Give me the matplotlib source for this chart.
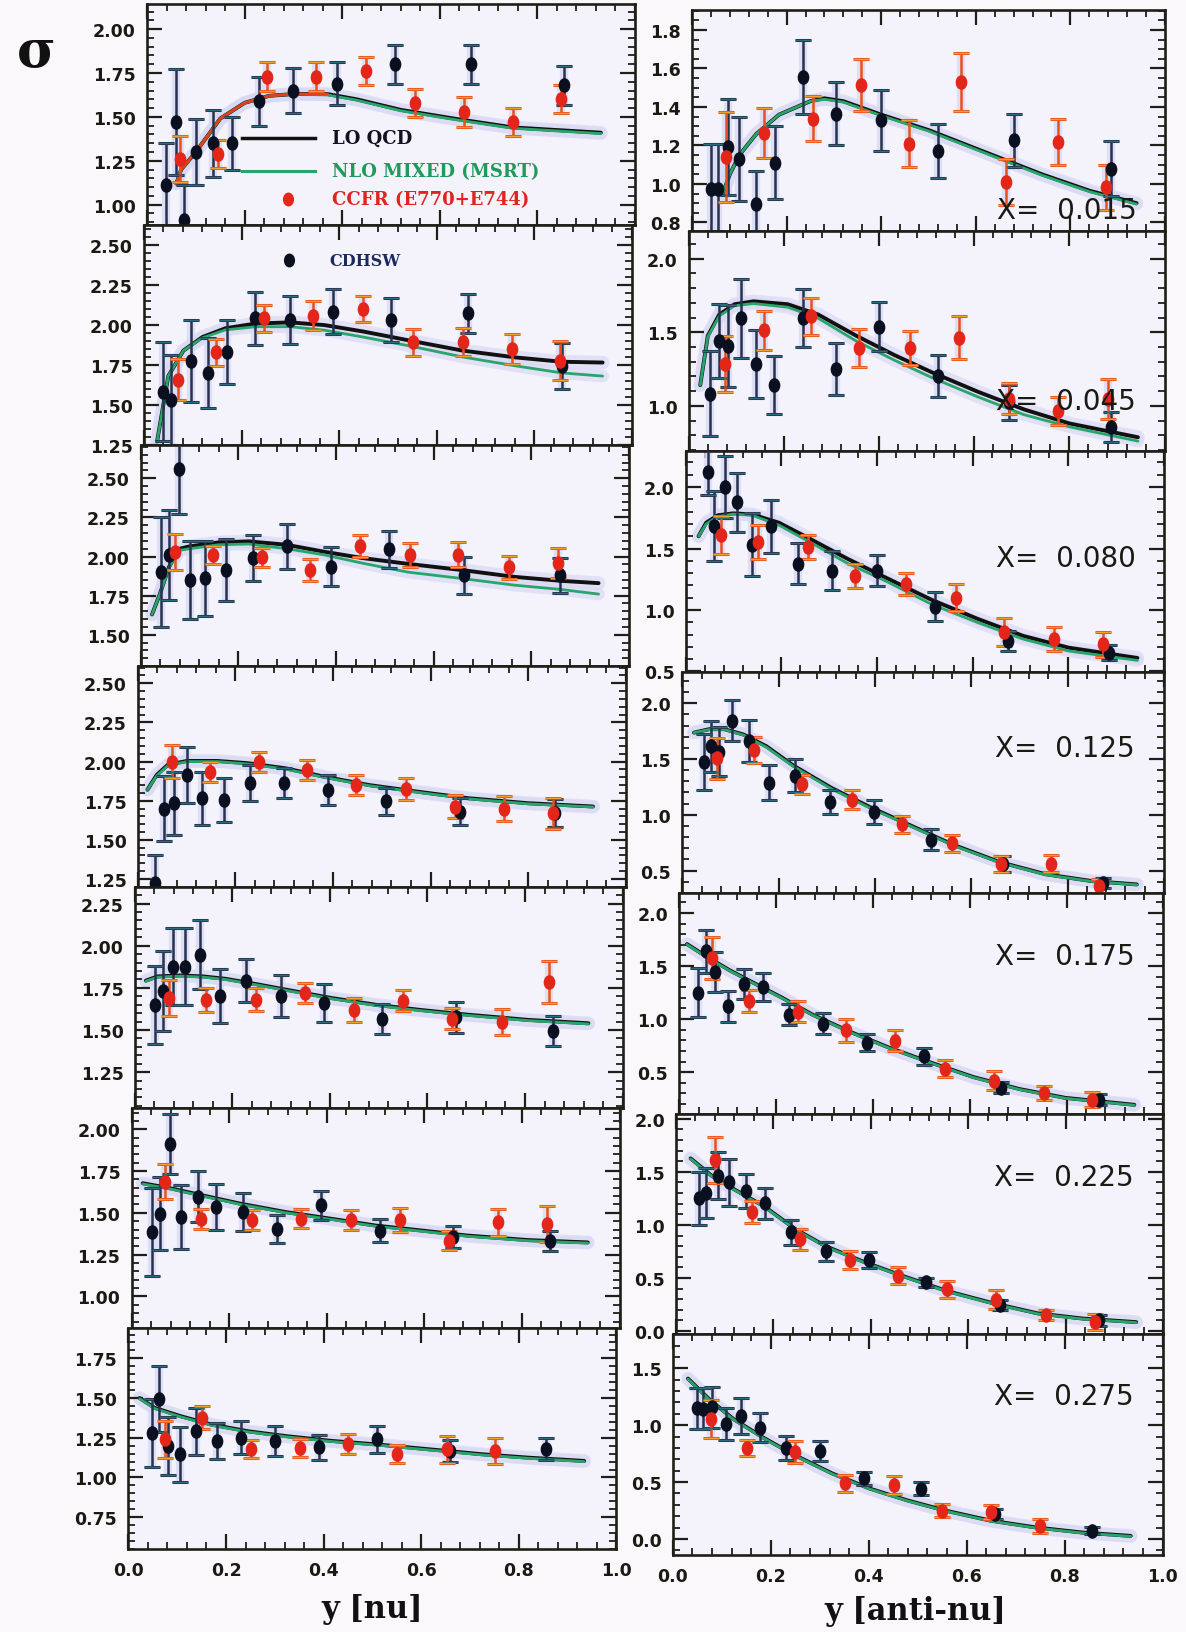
import matplotlib
matplotlib.use("Agg")
import matplotlib.pyplot as plt
from matplotlib.ticker import MultipleLocator, FormatStrFormatter
from matplotlib.path import Path
import numpy as np

# ---------------- data (y, value, error) ----------------
x_bins = ["0.015", "0.045", "0.080", "0.125", "0.175", "0.225", "0.275"]

# ---- X = 0.015
nu_cdhsw_015 = [(0.039,1.11,0.24),(0.059,1.47,0.30),(0.075,0.91,0.20),(0.100,1.30,0.19),(0.135,1.35,0.19),(0.174,1.35,0.15),(0.229,1.59,0.14),(0.299,1.65,0.13),(0.389,1.69,0.12),(0.509,1.80,0.11),(0.664,1.80,0.11),(0.855,1.68,0.11)]
nu_ccfr_015 = [(0.067,1.26,0.13),(0.145,1.29,0.08),(0.246,1.73,0.08),(0.347,1.73,0.08),(0.448,1.76,0.08),(0.549,1.58,0.08),(0.650,1.53,0.085),(0.751,1.47,0.08),(0.848,1.60,0.08)]
nu_lo_015 = [(0.060,1.12),(0.070,1.20),(0.100,1.30),(0.150,1.49),(0.200,1.58),(0.250,1.62),(0.300,1.63),(0.370,1.63),(0.430,1.60),(0.520,1.54),(0.630,1.49),(0.750,1.44),(0.930,1.41)]
nu_nlo_015 = [(0.060,1.12),(0.070,1.20),(0.100,1.30),(0.150,1.49),(0.200,1.58),(0.250,1.62),(0.300,1.63),(0.370,1.625),(0.430,1.595),(0.520,1.535),(0.630,1.485),(0.750,1.435),(0.930,1.405)]
nu_red_015 = [(0.060,1.12),(0.070,1.20),(0.100,1.30),(0.150,1.49),(0.200,1.58),(0.250,1.62),(0.300,1.63),(0.370,1.63)]
anu_cdhsw_015 = [(0.040,0.975,0.23),(0.056,0.975,0.23),(0.077,1.19,0.25),(0.100,1.13,0.22),(0.136,0.896,0.17),(0.176,1.11,0.19),(0.235,1.556,0.19),(0.304,1.365,0.165),(0.400,1.33,0.157),(0.520,1.17,0.14),(0.680,1.226,0.14),(0.885,1.08,0.144)]
anu_ccfr_015 = [(0.072,1.14,0.235),(0.152,1.264,0.13),(0.256,1.34,0.117),(0.357,1.513,0.135),(0.459,1.21,0.12),(0.568,1.53,0.15),(0.664,1.01,0.12),(0.773,1.217,0.12),(0.875,0.983,0.117)]
anu_lo_015 = [(0.065,0.95),(0.080,1.05),(0.100,1.15),(0.136,1.26),(0.184,1.36),(0.250,1.43),(0.280,1.445),(0.320,1.43),(0.400,1.36),(0.500,1.28),(0.620,1.165),(0.740,1.05),(0.840,0.965),(0.940,0.90)]
anu_nlo_015 = [(0.065,0.95),(0.080,1.05),(0.100,1.15),(0.136,1.26),(0.184,1.36),(0.250,1.43),(0.280,1.44),(0.320,1.425),(0.400,1.355),(0.500,1.275),(0.620,1.16),(0.740,1.045),(0.840,0.96),(0.940,0.895)]

# ---- X = 0.045
nu_cdhsw_045 = [(0.039,1.583,0.31),(0.055,1.53,0.28),(0.097,1.776,0.256),(0.131,1.70,0.22),(0.171,1.829,0.20),(0.227,2.043,0.166),(0.299,2.03,0.15),(0.387,2.085,0.144),(0.507,2.03,0.139),(0.664,2.075,0.123),(0.856,1.744,0.144)]
nu_ccfr_045 = [(0.069,1.658,0.128),(0.147,1.829,0.085),(0.246,2.043,0.085),(0.347,2.06,0.093),(0.449,2.10,0.08),(0.551,1.893,0.085),(0.653,1.893,0.09),(0.754,1.85,0.096),(0.853,1.776,0.123)]
nu_lo_045 = [(0.027,1.27),(0.050,1.68),(0.081,1.84),(0.120,1.925),(0.167,1.98),(0.230,2.01),(0.300,2.017),(0.370,2.00),(0.449,1.96),(0.543,1.904),(0.653,1.84),(0.762,1.797),(0.856,1.77),(0.940,1.765)]
nu_nlo_045 = [(0.027,1.27),(0.050,1.68),(0.081,1.84),(0.120,1.92),(0.167,1.97),(0.230,1.99),(0.300,1.99),(0.370,1.968),(0.449,1.925),(0.543,1.87),(0.653,1.80),(0.762,1.744),(0.856,1.70),(0.940,1.68)]
anu_cdhsw_045 = [(0.045,1.083,0.29),(0.064,1.44,0.25),(0.083,1.405,0.28),(0.109,1.595,0.268),(0.141,1.286,0.232),(0.179,1.143,0.196),(0.240,1.595,0.196),(0.309,1.25,0.18),(0.400,1.536,0.167),(0.523,1.202,0.143),(0.672,1.024,0.12),(0.888,0.857,0.10)]
anu_ccfr_045 = [(0.077,1.286,0.19),(0.157,1.512,0.13),(0.256,1.607,0.125),(0.357,1.393,0.13),(0.464,1.393,0.113),(0.568,1.464,0.143),(0.672,1.048,0.107),(0.776,0.964,0.095),(0.880,1.048,0.137)]
anu_lo_045 = [(0.024,1.14),(0.040,1.476),(0.064,1.62),(0.096,1.69),(0.136,1.71),(0.208,1.69),(0.272,1.62),(0.352,1.476),(0.432,1.345),(0.512,1.226),(0.608,1.095),(0.704,0.976),(0.800,0.88),(0.944,0.786)]
anu_nlo_045 = [(0.024,1.14),(0.040,1.47),(0.064,1.61),(0.096,1.68),(0.136,1.695),(0.208,1.67),(0.272,1.595),(0.352,1.44),(0.432,1.31),(0.512,1.19),(0.608,1.06),(0.704,0.94),(0.800,0.857),(0.944,0.76)]

# ---- X = 0.080
nu_cdhsw_080 = [(0.042,1.90,0.35),(0.058,2.01,0.29),(0.078,2.56,0.29),(0.101,1.85,0.25),(0.131,1.86,0.24),(0.174,1.914,0.20),(0.229,1.99,0.146),(0.299,2.065,0.146),(0.389,1.935,0.124),(0.509,2.047,0.119),(0.662,1.88,0.119),(0.860,1.88,0.113)]
nu_ccfr_080 = [(0.070,2.03,0.113),(0.148,2.01,0.06),(0.248,1.996,0.06),(0.346,1.914,0.07),(0.449,2.065,0.07),(0.551,2.01,0.075),(0.651,2.01,0.08),(0.754,1.93,0.072),(0.855,1.96,0.097)]
nu_lo_080 = [(0.023,1.63),(0.039,1.76),(0.058,1.935),(0.080,2.05),(0.100,2.065),(0.159,2.09),(0.221,2.097),(0.299,2.075),(0.377,2.03),(0.455,1.99),(0.548,1.953),(0.657,1.914),(0.766,1.87),(0.860,1.845),(0.938,1.83)]
nu_nlo_080 = [(0.023,1.63),(0.039,1.76),(0.058,1.93),(0.080,2.04),(0.100,2.05),(0.159,2.075),(0.221,2.08),(0.299,2.05),(0.377,2.01),(0.455,1.957),(0.548,1.90),(0.657,1.86),(0.766,1.817),(0.860,1.79),(0.938,1.76)]
anu_cdhsw_080 = [(0.046,2.125,0.19),(0.059,1.68,0.285),(0.083,2.00,0.25),(0.107,1.875,0.24),(0.139,1.53,0.257),(0.179,1.68,0.215),(0.234,1.375,0.167),(0.306,1.32,0.16),(0.399,1.32,0.125),(0.521,1.028,0.118),(0.673,0.75,0.083),(0.884,0.653,0.063)]
anu_ccfr_080 = [(0.075,1.61,0.153),(0.152,1.556,0.139),(0.255,1.514,0.097),(0.354,1.278,0.097),(0.461,1.21,0.09),(0.565,1.10,0.111),(0.665,0.82,0.111),(0.769,0.764,0.097),(0.872,0.72,0.104)]
anu_lo_080 = [(0.027,1.60),(0.043,1.71),(0.067,1.77),(0.099,1.786),(0.139,1.778),(0.195,1.71),(0.258,1.583),(0.338,1.417),(0.418,1.264),(0.514,1.083),(0.609,0.93),(0.705,0.79),(0.800,0.694),(0.944,0.61)]
anu_nlo_080 = [(0.027,1.60),(0.043,1.70),(0.067,1.76),(0.099,1.78),(0.139,1.77),(0.195,1.69),(0.258,1.556),(0.338,1.38),(0.418,1.236),(0.514,1.047),(0.609,0.90),(0.705,0.764),(0.800,0.667),(0.944,0.59)]

# ---- X = 0.125
nu_cdhsw_125 = [(0.036,1.223,0.18),(0.054,1.70,0.207),(0.075,1.734,0.202),(0.101,1.915,0.18),(0.132,1.766,0.17),(0.176,1.755,0.138),(0.230,1.862,0.117),(0.300,1.862,0.096),(0.389,1.82,0.096),(0.509,1.745,0.085),(0.661,1.68,0.085),(0.855,1.67,0.09)]
nu_ccfr_125 = [(0.070,2.00,0.106),(0.148,1.936,0.064),(0.249,2.00,0.064),(0.347,1.947,0.064),(0.448,1.85,0.064),(0.549,1.825,0.07),(0.650,1.713,0.074),(0.751,1.70,0.08),(0.852,1.67,0.10)]
nu_lo_125 = [(0.020,1.82),(0.039,1.915),(0.062,1.98),(0.101,2.004),(0.163,2.004),(0.225,1.99),(0.303,1.957),(0.381,1.904),(0.474,1.85),(0.568,1.81),(0.677,1.766),(0.800,1.734),(0.933,1.713)]
nu_nlo_125 = [(0.020,1.82),(0.039,1.91),(0.062,1.975),(0.101,2.0),(0.163,2.0),(0.225,1.985),(0.303,1.952),(0.381,1.90),(0.474,1.846),(0.568,1.806),(0.677,1.762),(0.800,1.73),(0.933,1.71)]
anu_cdhsw_125 = [(0.044,1.474,0.248),(0.060,1.613,0.232),(0.076,1.567,0.217),(0.103,1.845,0.186),(0.138,1.66,0.186),(0.179,1.288,0.155),(0.233,1.35,0.147),(0.306,1.118,0.108),(0.397,1.025,0.108),(0.516,0.777,0.093),(0.667,0.56,0.07),(0.873,0.39,0.046)]
anu_ccfr_125 = [(0.071,1.505,0.186),(0.148,1.582,0.116),(0.249,1.272,0.085),(0.352,1.133,0.085),(0.456,0.916,0.077),(0.559,0.746,0.077),(0.662,0.56,0.07),(0.765,0.56,0.077),(0.865,0.36,0.062)]
anu_lo_125 = [(0.024,1.737),(0.056,1.768),(0.087,1.768),(0.127,1.72),(0.175,1.613),(0.230,1.443),(0.310,1.24),(0.389,1.07),(0.468,0.916),(0.563,0.73),(0.659,0.576),(0.754,0.467),(0.849,0.406),(0.944,0.375)]
anu_nlo_125 = [(0.024,1.737),(0.056,1.765),(0.087,1.765),(0.127,1.715),(0.175,1.605),(0.230,1.435),(0.310,1.232),(0.389,1.062),(0.468,0.91),(0.563,0.724),(0.659,0.572),(0.754,0.463),(0.849,0.403),(0.944,0.372)]

# ---- X = 0.175
nu_cdhsw_175 = [(0.042,1.65,0.232),(0.059,1.73,0.238),(0.078,1.876,0.227),(0.104,1.876,0.227),(0.135,1.948,0.207),(0.175,1.70,0.16),(0.229,1.793,0.129),(0.299,1.70,0.124),(0.388,1.66,0.114),(0.507,1.566,0.088),(0.659,1.576,0.093),(0.857,1.494,0.088)]
nu_ccfr_175 = [(0.070,1.69,0.108),(0.147,1.68,0.072),(0.248,1.68,0.067),(0.349,1.72,0.057),(0.450,1.618,0.072),(0.550,1.674,0.062),(0.651,1.566,0.062),(0.752,1.545,0.077),(0.850,1.783,0.124)]
nu_lo_175 = [(0.023,1.793),(0.047,1.818),(0.093,1.824),(0.140,1.818),(0.186,1.804),(0.248,1.773),(0.326,1.731),(0.403,1.69),(0.496,1.649),(0.589,1.618),(0.682,1.591),(0.806,1.56),(0.930,1.54)]
nu_nlo_175 = [(0.023,1.79),(0.047,1.814),(0.093,1.82),(0.140,1.814),(0.186,1.80),(0.248,1.769),(0.326,1.727),(0.403,1.686),(0.496,1.645),(0.589,1.614),(0.682,1.587),(0.806,1.556),(0.930,1.536)]
anu_cdhsw_175 = [(0.039,1.25,0.228),(0.055,1.64,0.204),(0.074,1.446,0.187),(0.100,1.12,0.147),(0.134,1.33,0.138),(0.174,1.30,0.13),(0.226,1.04,0.098),(0.297,0.958,0.098),(0.387,0.778,0.081),(0.506,0.648,0.081),(0.664,0.355,0.05),(0.866,0.24,0.05)]
anu_ccfr_175 = [(0.068,1.577,0.195),(0.145,1.17,0.106),(0.245,1.07,0.098),(0.344,0.893,0.106),(0.445,0.795,0.098),(0.548,0.534,0.081),(0.651,0.42,0.09),(0.754,0.306,0.065),(0.853,0.24,0.073)]
anu_lo_175 = [(0.016,1.707),(0.055,1.593),(0.103,1.463),(0.150,1.35),(0.213,1.20),(0.276,1.04),(0.355,0.876),(0.434,0.73),(0.513,0.60),(0.608,0.453),(0.703,0.34),(0.798,0.257),(0.940,0.192)]
anu_nlo_175 = [(0.016,1.703),(0.055,1.589),(0.103,1.459),(0.150,1.346),(0.213,1.196),(0.276,1.036),(0.355,0.872),(0.434,0.726),(0.513,0.596),(0.608,0.449),(0.703,0.336),(0.798,0.253),(0.940,0.188)]

# ---- X = 0.225
nu_cdhsw_225 = [(0.042,1.384,0.263),(0.058,1.495,0.217),(0.078,1.91,0.18),(0.101,1.475,0.19),(0.136,1.596,0.152),(0.174,1.535,0.136),(0.229,1.505,0.111),(0.299,1.404,0.086),(0.389,1.545,0.086),(0.509,1.394,0.071),(0.659,1.354,0.066),(0.857,1.333,0.06)]
nu_ccfr_225 = [(0.069,1.687,0.106),(0.143,1.465,0.06),(0.246,1.455,0.06),(0.347,1.465,0.056),(0.449,1.455,0.06),(0.550,1.455,0.071),(0.651,1.333,0.056),(0.751,1.444,0.081),(0.852,1.434,0.106)]
nu_lo_225 = [(0.023,1.677),(0.081,1.646),(0.143,1.606),(0.221,1.556),(0.315,1.505),(0.408,1.465),(0.500,1.424),(0.595,1.394),(0.688,1.364),(0.813,1.337),(0.935,1.323)]
nu_nlo_225 = [(0.023,1.673),(0.081,1.642),(0.143,1.602),(0.221,1.552),(0.315,1.501),(0.408,1.461),(0.500,1.42),(0.595,1.39),(0.688,1.36),(0.813,1.333),(0.935,1.319)]
anu_cdhsw_225 = [(0.047,1.253,0.25),(0.062,1.30,0.235),(0.086,1.464,0.22),(0.109,1.40,0.22),(0.143,1.318,0.162),(0.182,1.205,0.146),(0.237,0.929,0.114),(0.307,0.75,0.089),(0.397,0.669,0.073),(0.514,0.458,0.04),(0.665,0.247,0.049),(0.868,0.10,0.049)]
anu_ccfr_225 = [(0.081,1.61,0.219),(0.156,1.123,0.106),(0.255,0.864,0.097),(0.357,0.669,0.081),(0.455,0.523,0.081),(0.556,0.393,0.081),(0.657,0.295,0.089),(0.759,0.149,0.049),(0.860,0.084,0.073)]
anu_lo_225 = [(0.030,1.627),(0.073,1.464),(0.120,1.334),(0.182,1.172),(0.245,0.961),(0.307,0.80),(0.385,0.653),(0.463,0.523),(0.556,0.377),(0.650,0.263),(0.743,0.166),(0.836,0.117),(0.945,0.084)]
anu_nlo_225 = [(0.030,1.623),(0.073,1.46),(0.120,1.33),(0.182,1.168),(0.245,0.957),(0.307,0.796),(0.385,0.649),(0.463,0.519),(0.556,0.373),(0.650,0.259),(0.743,0.162),(0.836,0.113),(0.945,0.08)]

# ---- X = 0.275
nu_cdhsw_275 = [(0.049,1.281,0.214),(0.062,1.494,0.208),(0.082,1.198,0.182),(0.105,1.146,0.172),(0.139,1.29,0.146),(0.181,1.23,0.115),(0.231,1.25,0.104),(0.300,1.23,0.094),(0.390,1.19,0.078),(0.509,1.24,0.083),(0.659,1.167,0.068),(0.856,1.18,0.068)]
nu_ccfr_275 = [(0.074,1.24,0.115),(0.150,1.375,0.073),(0.252,1.177,0.057),(0.352,1.188,0.057),(0.451,1.208,0.063),(0.551,1.146,0.057),(0.653,1.177,0.083),(0.752,1.167,0.083)]
nu_lo_275 = [(0.023,1.50),(0.054,1.438),(0.108,1.385),(0.170,1.333),(0.247,1.29),(0.324,1.26),(0.417,1.23),(0.509,1.208),(0.617,1.177),(0.725,1.146),(0.818,1.125),(0.934,1.104)]
nu_nlo_275 = [(0.023,1.496),(0.054,1.434),(0.108,1.381),(0.170,1.329),(0.247,1.286),(0.324,1.256),(0.417,1.226),(0.509,1.204),(0.617,1.173),(0.725,1.142),(0.818,1.121),(0.934,1.10)]
anu_cdhsw_275 = [(0.049,1.149,0.18),(0.062,1.143,0.18),(0.080,1.158,0.18),(0.108,1.009,0.14),(0.139,1.083,0.156),(0.178,0.979,0.127),(0.232,0.80,0.104),(0.301,0.771,0.089),(0.391,0.533,0.06),(0.507,0.443,0.06),(0.657,0.22,0.045),(0.855,0.071,0.03)]
anu_ccfr_275 = [(0.077,1.054,0.164),(0.151,0.80,0.074),(0.250,0.762,0.097),(0.351,0.488,0.074),(0.451,0.473,0.082),(0.549,0.25,0.06),(0.649,0.235,0.06),(0.750,0.116,0.06)]
anu_lo_275 = [(0.031,1.41),(0.077,1.217),(0.124,1.054),(0.185,0.89),(0.247,0.741),(0.325,0.577),(0.402,0.443),(0.479,0.339),(0.556,0.25),(0.649,0.161),(0.742,0.101),(0.835,0.057),(0.935,0.027)]
anu_nlo_275 = [(0.031,1.406),(0.077,1.213),(0.124,1.05),(0.185,0.886),(0.247,0.737),(0.325,0.573),(0.402,0.439),(0.479,0.335),(0.556,0.246),(0.649,0.157),(0.742,0.097),(0.835,0.053),(0.935,0.023)]

# axis ranges and tick steps per row
nu_ylims = [(0.886, 2.143), (1.245, 2.63), (1.30, 2.71), (1.20, 2.61), (1.04, 2.35), (0.81, 2.13), (0.55, 1.94)]
anu_ylims = [(0.757, 1.904), (0.69, 2.19), (0.495, 2.29), (0.30, 2.28), (0.11, 2.19), (-0.03, 2.05), (-0.14, 1.80)]
anu_ystep = [0.2, 0.5, 0.5, 0.5, 0.5, 0.5, 0.5]
anu_yminor = [0.05, 0.1, 0.1, 0.1, 0.1, 0.1, 0.1]
xbin_label_pos = [0.094, 0.227, 0.517, 0.657, 0.714, 0.714, 0.72]

nu_rows = [
    (nu_cdhsw_015, nu_ccfr_015, nu_lo_015, nu_nlo_015),
    (nu_cdhsw_045, nu_ccfr_045, nu_lo_045, nu_nlo_045),
    (nu_cdhsw_080, nu_ccfr_080, nu_lo_080, nu_nlo_080),
    (nu_cdhsw_125, nu_ccfr_125, nu_lo_125, nu_nlo_125),
    (nu_cdhsw_175, nu_ccfr_175, nu_lo_175, nu_nlo_175),
    (nu_cdhsw_225, nu_ccfr_225, nu_lo_225, nu_nlo_225),
    (nu_cdhsw_275, nu_ccfr_275, nu_lo_275, nu_nlo_275),
]
anu_rows = [
    (anu_cdhsw_015, anu_ccfr_015, anu_lo_015, anu_nlo_015),
    (anu_cdhsw_045, anu_ccfr_045, anu_lo_045, anu_nlo_045),
    (anu_cdhsw_080, anu_ccfr_080, anu_lo_080, anu_nlo_080),
    (anu_cdhsw_125, anu_ccfr_125, anu_lo_125, anu_nlo_125),
    (anu_cdhsw_175, anu_ccfr_175, anu_lo_175, anu_nlo_175),
    (anu_cdhsw_225, anu_ccfr_225, anu_lo_225, anu_nlo_225),
    (anu_cdhsw_275, anu_ccfr_275, anu_lo_275, anu_nlo_275),
]

# ---------------- styling ----------------
W, H = 1186, 1633
FIG_BG = "#fbf8fb"
AX_BG = "#f4f3fb"
FRAME = "#1f1f18"
BLACK_PT = "#0b1020"
BLACK_ERR = "#26324e"
RED_PT = "#e4261a"
RED_ERR = "#e8501c"
LO_COL = "#111111"
NLO_COL = "#27a56a"
GLOW = "#d9d9f4"
TICK_FAMILY = "DejaVu Sans"
TICK_SIZE = 12.5
SERIF = "DejaVu Serif"

ell = Path.unit_circle()
ell = Path(ell.vertices * np.array([0.78, 1.0]), ell.codes)

fig = plt.figure(figsize=(W / 100, H / 100), dpi=100, facecolor=FIG_BG)

row_h = 220.7


def draw_series(ax, pts, mcol, ecol, ccol):
    xs = [p[0] for p in pts]
    ys = [p[1] for p in pts]
    es = [p[2] for p in pts]
    ax.errorbar(xs, ys, yerr=es, fmt="none", ecolor=GLOW, elinewidth=6, capsize=0, alpha=0.8, zorder=2)
    ax.errorbar(xs, ys, yerr=es, fmt="none", ecolor=ecol, elinewidth=1.8, capsize=5.5, capthick=2.2, zorder=4)
    ax.errorbar(xs, ys, yerr=es, fmt="none", ecolor=ccol, elinewidth=0, capsize=5.5, capthick=1.0, zorder=4.5)
    ax.plot(xs, ys, linestyle="none", marker=ell, markersize=9.5, color=mcol, markeredgecolor=mcol, zorder=5)


def draw_curve(ax, pts, col, lw, z):
    xs = [p[0] for p in pts]
    ys = [p[1] for p in pts]
    ax.plot(xs, ys, color=GLOW, lw=lw + 7, alpha=0.7, zorder=1, solid_capstyle="round")
    ax.plot(xs, ys, color=col, lw=lw, zorder=z, solid_capstyle="round")


def style_axes(ax, ymajor, yminor, fmt, show_x):
    ax.set_facecolor(AX_BG)
    ax.set_xlim(0.0, 1.0)
    ax.xaxis.set_major_locator(MultipleLocator(0.2))
    ax.xaxis.set_minor_locator(MultipleLocator(0.04))
    ax.yaxis.set_major_locator(MultipleLocator(ymajor))
    ax.yaxis.set_minor_locator(MultipleLocator(yminor))
    ax.yaxis.set_major_formatter(FormatStrFormatter(fmt))
    ax.xaxis.set_major_formatter(FormatStrFormatter("%.1f"))
    ax.tick_params(which="both", direction="in", top=True, right=True, color=FRAME)
    ax.tick_params(which="major", length=11, width=1.6, pad=8)
    ax.tick_params(which="minor", length=5, width=1.3)
    ax.tick_params(axis="x", labelbottom=show_x, pad=9)
    for lab in ax.get_yticklabels() + ax.get_xticklabels():
        lab.set_fontfamily(TICK_FAMILY)
        lab.set_fontweight("bold")
        lab.set_fontsize(TICK_SIZE)
        lab.set_color("#1a1a14")
    for sp in ax.spines.values():
        sp.set_color(FRAME)
        sp.set_linewidth(1.9)


axes_left = []
axes_right = []
for i in range(7):
    # neutrino column
    topL = 5 + row_h * i
    x0L = 147 - 3.1 * i
    axL = fig.add_axes([x0L / W, 1 - (topL + row_h) / H, 488 / W, row_h / H])
    cd, cc, lo, nlo = nu_rows[i]
    draw_curve(axL, lo, LO_COL, 2.8, 3)
    draw_curve(axL, nlo, NLO_COL, 2.0, 3.2)
    if i == 0:
        draw_curve(axL, nu_red_015, "#e0401c", 2.0, 3.4)
    draw_series(axL, cd, BLACK_PT, BLACK_ERR, "#2d6d7a")
    draw_series(axL, cc, RED_PT, RED_ERR, "#f0a030")
    axL.set_ylim(*nu_ylims[i])
    style_axes(axL, 0.25, 0.05, "%.2f", i == 6)
    axes_left.append(axL)

    # anti-neutrino column
    topR = 11 + row_h * i
    x0R = 692 - 3.2 * i
    wR = 473 + 2.8 * i
    axR = fig.add_axes([x0R / W, 1 - (topR + row_h) / H, wR / W, row_h / H])
    cd, cc, lo, nlo = anu_rows[i]
    draw_curve(axR, lo, LO_COL, 2.8, 3)
    draw_curve(axR, nlo, NLO_COL, 2.0, 3.2)
    draw_series(axR, cd, BLACK_PT, BLACK_ERR, "#2d6d7a")
    draw_series(axR, cc, RED_PT, RED_ERR, "#f0a030")
    axR.set_ylim(*anu_ylims[i])
    style_axes(axR, anu_ystep[i], anu_yminor[i], "%.1f", i == 6)
    axR.text(0.94, xbin_label_pos[i], "X=  " + x_bins[i], transform=axR.transAxes,
             ha="right", va="center", fontsize=20, fontfamily="DejaVu Sans",
             color="#1a1a14", zorder=6)
    axes_right.append(axR)

# legend (drawn inside the first panels, as in the original)
ax0 = axes_left[0]
ax0.plot([0.195, 0.345], [1.381, 1.381], color=LO_COL, lw=2.5, zorder=6)
ax0.text(0.38, 1.381, "LO QCD", fontfamily=SERIF, fontweight="bold", fontsize=13, color="#111122", va="center", zorder=6)
ax0.plot([0.195, 0.345], [1.19, 1.19], color=NLO_COL, lw=2.2, zorder=6)
ax0.text(0.38, 1.19, "NLO MIXED (MSRT)", fontfamily=SERIF, fontweight="bold", fontsize=13, color="#1f9a5c", va="center", zorder=6)
ax0.plot([0.288], [1.03], linestyle="none", marker=ell, markersize=9, color=RED_PT, zorder=6)
ax0.text(0.38, 1.03, "CCFR (E770+E744)", fontfamily=SERIF, fontweight="bold", fontsize=13, color="#e02420", va="center", zorder=6)
ax1 = axes_left[1]
ax1.plot([0.297], [2.406], linestyle="none", marker=ell, markersize=9, color=BLACK_PT, zorder=6)
ax1.text(0.38, 2.406, "CDHSW", fontfamily=SERIF, fontweight="bold", fontsize=11.5, color="#1c2a5c", va="center", zorder=6)

# axis titles and sigma
fig.text(372 / W, 1 - 1610 / H, "y [nu]", ha="center", va="center", fontfamily=SERIF, fontweight="bold", fontsize=22, color="#111111")
fig.text(915 / W, 1 - 1612 / H, "y [anti-nu]", ha="center", va="center", fontfamily=SERIF, fontweight="bold", fontsize=22, color="#111111")
fig.text(36 / W, 1 - 52 / H, "σ", ha="center", va="center", fontfamily=SERIF, fontweight="bold", fontsize=38, color="#111111")

fig.savefig("out.png", dpi=100, facecolor=FIG_BG)
